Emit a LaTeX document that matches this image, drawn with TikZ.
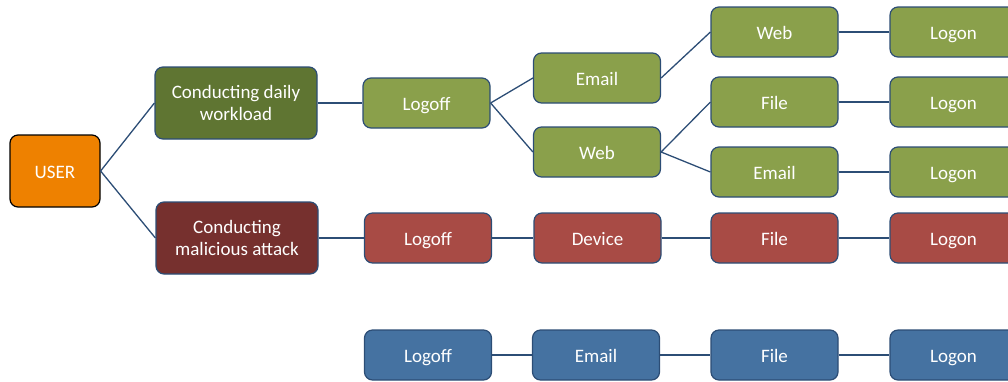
\documentclass[tikz,border=0pt]{standalone}
\usepackage{fontspec}
\setmainfont{Carlito}
\definecolor{userorange}{HTML}{EE8100}
\definecolor{dailygreen}{HTML}{5F7532}
\definecolor{attackred}{HTML}{76302E}
\definecolor{boxgreen}{HTML}{8AA04B}
\definecolor{boxred}{HTML}{A84B45}
\definecolor{boxblue}{HTML}{4572A1}
\definecolor{edgeblue}{HTML}{2C4D75}
\tikzset{
  base/.style={draw=edgeblue,line width=1.2pt,rounded corners=8pt,text=white,
    inner sep=0pt,align=center,font=\fontsize{19}{22}\selectfont},
  box/.style={base,minimum width=127pt,minimum height=50pt,
    text height=15pt,text depth=1pt},
  bigbox/.style={base,minimum width=162pt,minimum height=72pt},
  link/.style={draw=edgeblue,line width=1.3pt}
}
\begin{document}
\begin{tikzpicture}[x=1pt,y=-1pt]
\useasboundingbox (0,0) rectangle (1008,381);
\node[box,fill=userorange,draw=black,minimum width=90pt,minimum height=72pt] (user) at (55,171) {USER};
\node[bigbox,fill=dailygreen] (daily) at (236,103) {Conducting daily\\workload};
\node[bigbox,fill=attackred] (attack) at (237,238) {Conducting\\malicious attack};
% daily workload branch
\node[box,fill=boxgreen] (gLogoff) at (426.5,103) {Logoff};
\node[box,fill=boxgreen] (gEmail) at (597,78) {Email};
\node[box,fill=boxgreen] (gWeb) at (597,152) {Web};
\node[box,fill=boxgreen] (gWebB) at (774.5,32) {Web};
\node[box,fill=boxgreen] (gFile) at (774.5,102) {File};
\node[box,fill=boxgreen] (gEmailB) at (774.5,172) {Email};
\node[box,fill=boxgreen] (gLogonA) at (953.5,32) {Logon};
\node[box,fill=boxgreen] (gLogonB) at (953.5,102) {Logon};
\node[box,fill=boxgreen] (gLogonC) at (953.5,172) {Logon};
% malicious attack branch
\node[box,fill=boxred] (rLogoff) at (428,238) {Logoff};
\node[box,fill=boxred] (rDevice) at (597.5,238) {Device};
\node[box,fill=boxred] (rFile) at (774.5,238) {File};
\node[box,fill=boxred] (rLogon) at (953.5,238) {Logon};
% unattached row
\node[box,fill=boxblue] (bLogoff) at (428,355) {Logoff};
\node[box,fill=boxblue] (bEmail) at (596,355) {Email};
\node[box,fill=boxblue] (bFile) at (774.5,355) {File};
\node[box,fill=boxblue] (bLogon) at (953.5,355) {Logon};
\draw[link] (user.east) -- (daily.west);
\draw[link] (user.east) -- (attack.west);
\draw[link] (daily.east) -- (gLogoff.west);
\draw[link] (gLogoff.east) -- (gEmail.west);
\draw[link] (gLogoff.east) -- (gWeb.west);
\draw[link] (gEmail.east) -- (gWebB.west);
\draw[link] (gWeb.east) -- (gFile.west);
\draw[link] (gWeb.east) -- (gEmailB.west);
\draw[link] (gWebB) -- (gLogonA);
\draw[link] (gFile) -- (gLogonB);
\draw[link] (gEmailB) -- (gLogonC);
\draw[link] (attack.east) -- (rLogoff.west);
\draw[link] (rLogoff) -- (rDevice);
\draw[link] (rDevice) -- (rFile);
\draw[link] (rFile) -- (rLogon);
\draw[link] (bLogoff) -- (bEmail);
\draw[link] (bEmail) -- (bFile);
\draw[link] (bFile) -- (bLogon);
\end{tikzpicture}
\end{document}
